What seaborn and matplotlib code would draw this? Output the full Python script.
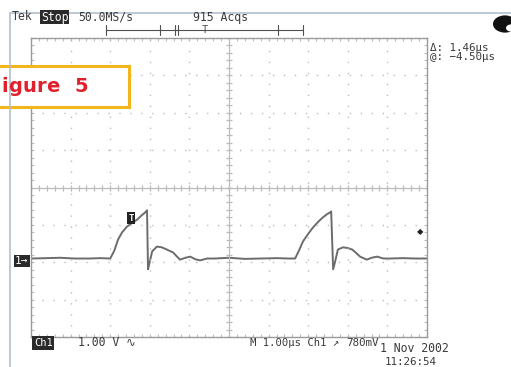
import numpy as np
import pandas as pd
import matplotlib
matplotlib.use("Agg")
import matplotlib.pyplot as plt
from matplotlib.patches import Rectangle, Circle
import seaborn as sns

# Captured trace: time in divisions (1.00 us/div), amplitude in divisions (1.00 V/div)
t_div = [0.00, 0.40, 0.73, 1.10, 1.49, 1.75, 2.00, 2.10, 2.20, 2.30, 2.42, 2.55, 2.68,
         2.80, 2.88, 2.93, 2.955, 3.00, 3.06, 3.18, 3.30, 3.43, 3.59, 3.76, 3.90,
         4.02, 4.15, 4.27, 4.45, 4.65, 5.00, 5.40, 5.80, 6.20, 6.50, 6.67, 6.77,
         6.87, 7.00, 7.12, 7.25, 7.37, 7.48, 7.55, 7.58, 7.63, 7.68, 7.75, 7.88,
         8.00, 8.11, 8.20, 8.31, 8.48, 8.60, 8.74, 8.90, 9.07, 9.40, 9.70, 10.00]
v_div = [-1.90, -1.89, -1.88, -1.90, -1.90, -1.89, -1.90, -1.70, -1.39, -1.20, -1.05,
         -0.95, -0.86, -0.74, -0.67, -0.61, -2.19, -1.98, -1.71, -1.58, -1.60, -1.66,
         -1.74, -1.93, -1.88, -1.85, -1.92, -1.95, -1.90, -1.90, -1.88, -1.91, -1.90,
         -1.89, -1.90, -1.90, -1.68, -1.44, -1.24, -1.07, -0.92, -0.80, -0.71, -0.67,
         -0.64, -2.19, -1.98, -1.66, -1.60, -1.62, -1.66, -1.74, -1.85, -1.93, -1.88,
         -1.85, -1.90, -1.90, -1.89, -1.90, -1.90]

# Caption glyphs and their left edges (pixels)
caption_chars = ["i", "g", "u", "r", "e", "5"]
caption_x = [1, 8, 23, 36, 46, 74]

W, H = 511, 367
def fx(x):
    return x / W
def fy(y):
    return 1 - y / H

sns.set_style("white")
plt.rcParams["font.family"] = ["DejaVu Sans"]

fig = plt.figure(figsize=(W / 100, H / 100), dpi=100)
fig.patch.set_facecolor("white")

# Outer screen frame
fig.add_artist(plt.Line2D([fx(10), fx(10)], [fy(13), fy(367)], color="#b4c0cc", lw=1.2))
fig.add_artist(plt.Line2D([fx(10), fx(511)], [fy(13), fy(13)], color="#b4c0cc", lw=1.2))

ax = fig.add_axes([fx(31), fy(337), (427 - 31) / W, (337 - 38) / H])
ax.set_facecolor("white")

df = pd.DataFrame({"t": t_div, "v": v_div})
sns.lineplot(data=df, x="t", y="v", ax=ax, color="#6c6c6c", lw=1.4, sort=False)

ax.set_xlim(0, 10)
ax.set_ylim(-4, 4)
ax.set_xlabel("")
ax.set_ylabel("")
ax.set_xticks([])
ax.set_yticks([])

grid_c = "#bcbcbc"
for xv in range(1, 10):
    if xv != 5:
        ax.axvline(xv, color=grid_c, lw=1.0, ls=(0, (1, 6.9)))
for yv in range(-3, 4):
    if yv != 0:
        ax.axhline(yv, color=grid_c, lw=1.0, ls=(0, (1, 6.9)))

# Centre crosshair with minor graduations
ax.axvline(5, color=grid_c, lw=0.9)
ax.axhline(0, color=grid_c, lw=0.9)
minor_x = np.arange(0, 10.01, 0.2)
minor_y = np.arange(-4, 4.01, 0.2)
ax.plot(minor_x, np.zeros_like(minor_x), ls="none", marker="|", ms=5, color=grid_c, mew=0.9)
ax.plot(np.full_like(minor_y, 5), minor_y, ls="none", marker="_", ms=5, color=grid_c, mew=0.9)

# Border graduations
ax.set_xticks(minor_x, minor=True)
ax.set_yticks(minor_y, minor=True)
ax.tick_params(which="minor", direction="in", length=2.5, width=0.8, color=grid_c,
               top=True, bottom=True, left=True, right=True)
for s in ax.spines.values():
    s.set_color("#9a9a9a")
    s.set_linewidth(1.0)

mono = ["DejaVu Sans Mono", "DejaVu Sans"]
ink = "#3a3a3a"
box = "#2a2a2a"

# Trigger position marker on trace and trigger level marker
ax.text(2.53, -0.82, "T", fontsize=6.5, color="white", fontweight="bold",
        ha="center", va="center", family=mono,
        bbox=dict(boxstyle="square,pad=0.15", fc="#222222", ec="none"))
fig.text(fx(420), fy(232), "\u25c6", fontsize=6, color="#222222", ha="center", va="center")

txt = dict(fontsize=8.3, color=ink, va="center", family=mono)
# Top status line
fig.text(fx(12), fy(17), "Tek", **txt)
fig.text(fx(41), fy(17), "Stop", fontsize=8.3, color="white", va="center", family=mono,
         bbox=dict(boxstyle="square,pad=0.08", fc=box, ec="none"))
fig.text(fx(78), fy(17), "50.0MS/s", **txt)
fig.text(fx(193), fy(17), "915 Acqs", **txt)

# Record position indicator
rc = "#505050"
fig.add_artist(plt.Line2D([fx(106), fx(303)], [fy(30), fy(30)], color=rc, lw=0.8))
for xb in [106, 160, 175, 178, 278, 303]:
    fig.add_artist(plt.Line2D([fx(xb), fx(xb)], [fy(25), fy(35)], color=rc, lw=0.8))
fig.text(fx(205), fy(30), "T", fontsize=7.5, color=rc, ha="center", va="center", family=mono)

# Cursor readout
fig.text(fx(430), fy(48), "\u0394: 1.46\u00b5s", fontsize=7.8, color=ink, va="center", family=mono)
fig.text(fx(430), fy(57), "@: \u22124.50\u00b5s", fontsize=7.8, color=ink, va="center", family=mono)

# Channel ground marker
fig.text(fx(15), fy(261), "1\u2192", fontsize=8, color="white", va="center", family=mono,
         bbox=dict(boxstyle="square,pad=0.1", fc=box, ec="none"))

# Bottom status line
fig.text(fx(34), fy(343), "Ch1", fontsize=7.5, color="white", va="center", family=mono,
         bbox=dict(boxstyle="square,pad=0.15", fc=box, ec="none"))
fig.text(fx(78), fy(343), "1.00 V \u223f", **txt)
fig.text(fx(250), fy(343), "M 1.00\u00b5s Ch1 \u2197", fontsize=7.6, color=ink,
         va="center", family=mono)
fig.text(fx(346), fy(343), "780mV", fontsize=7.8, color=ink, va="center", family=mono)
fig.text(fx(380), fy(348), "1 Nov 2002", fontsize=8.3, color=ink, va="center", family=mono)
fig.text(fx(385), fy(362), "11:26:54", fontsize=7.8, color=ink, va="center", family=mono)

# Corner badge
fig.add_artist(Circle((fx(505), fy(24)), 12 / W, transform=fig.transFigure,
                      fc="#111111", ec="none"))
fig.add_artist(Circle((fx(511), fy(28)), 5 / W, transform=fig.transFigure,
                      fc="white", ec="none"))

# Figure caption box
fig.add_artist(Rectangle((fx(-5), fy(107)), (129 + 5) / W, (107 - 66) / H,
                         transform=fig.transFigure, fc="white", ec="#f2b51c", lw=2.2))
for ch, cx in zip(caption_chars, caption_x):
    fig.text(fx(cx), fy(87), ch, fontsize=14, fontweight="bold",
             color="#e0202c", va="center", ha="left")

fig.savefig("out.png", dpi=100)
